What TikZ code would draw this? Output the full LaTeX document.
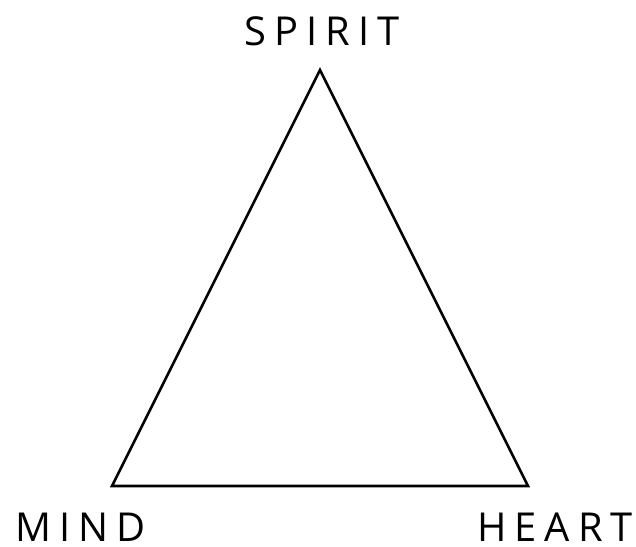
\documentclass[tikz,border=0pt]{standalone}
\usepackage{fontspec}
\setmainfont{Open Sans}
\newcommand{\trk}{\kern8bp}
\begin{document}
\begin{tikzpicture}[x=1bp,y=-1bp,
  lbl/.style={font=\fontsize{40}{44}\selectfont, inner sep=0pt, text depth=0pt},
  tri/.style={draw=black, line width=2.6bp, line join=miter}]
\useasboundingbox (0,0) rectangle (636,547);
\coordinate (top) at (320,70);
\coordinate (left) at (112,486);
\coordinate (right) at (528,486);
\draw[tri] (top) -- (left) -- (right) -- cycle;
\node[lbl, anchor=base] (spirit) at (322,46) {S\trk P\trk I\trk R\trk I\trk T};
\node[lbl, anchor=base west] (mind) at (15,541) {M\trk I\trk N\trk D};
\node[lbl, anchor=base east] (heart) at (633,541) {H\trk E\trk A\trk R\trk T};
\end{tikzpicture}
\end{document}
